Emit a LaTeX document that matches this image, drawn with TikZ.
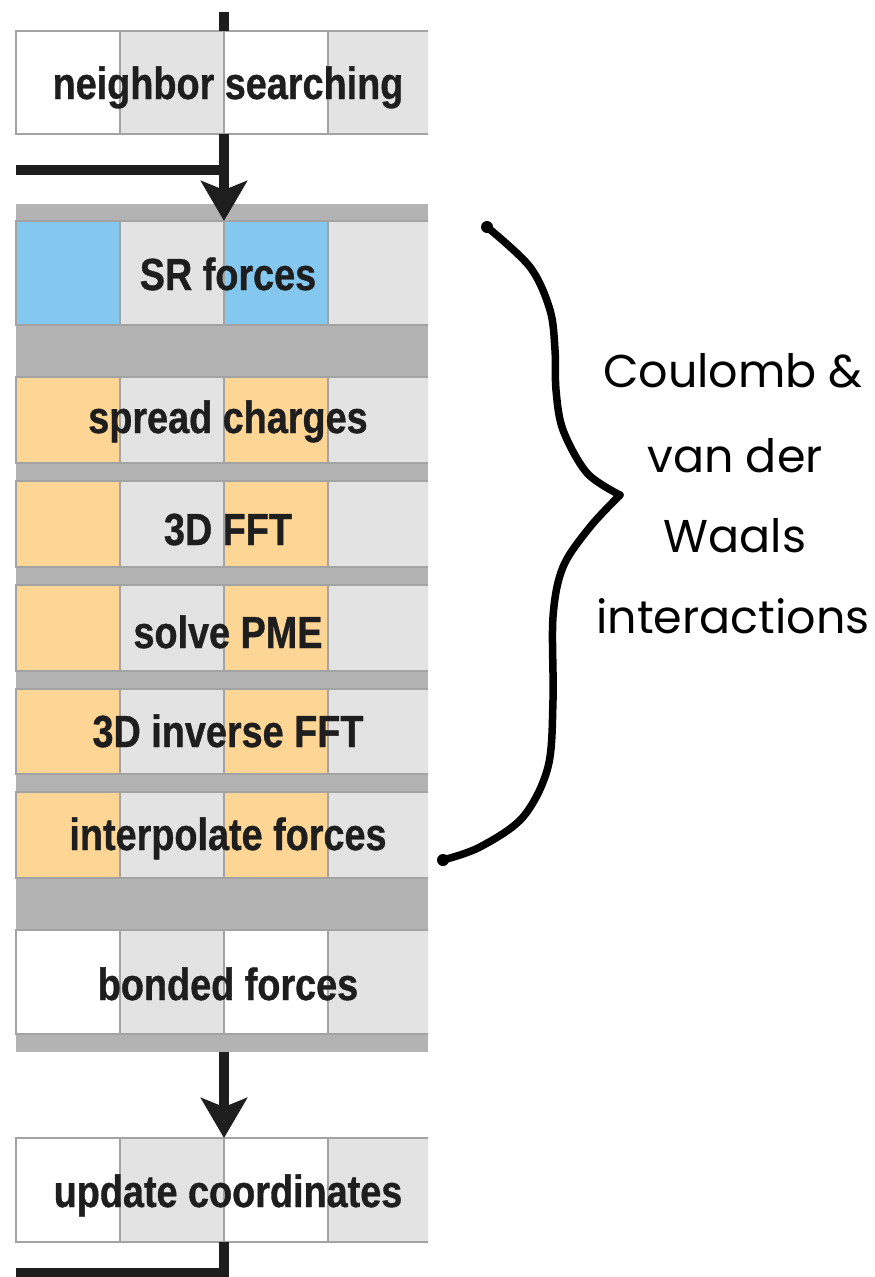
\documentclass[tikz,border=0pt]{standalone}
\usepackage{fontspec}
\usetikzlibrary{arrows.meta,calc}

\newfontfamily\stepfont[FakeStretch=0.84, FakeBold=0.8]{Liberation Sans}
\newfontfamily\handfont{Poppins}

\definecolor{cellblue}{HTML}{84C8F0}
\definecolor{cellorange}{HTML}{FDD594}
\definecolor{cellgray}{HTML}{E3E3E3}
\definecolor{bandgray}{HTML}{B3B3B3}
\definecolor{edgegray}{HTML}{A3A3A3}
\definecolor{ink}{HTML}{1E1E1E}

\tikzset{
  cellline/.style={draw=edgegray, line width=2pt},
  rowbox/.style={rectangle, draw=none, inner sep=0pt, outer sep=0pt, minimum width=416pt},
  steplabel/.style={anchor=base, text=ink, inner sep=0pt,
    font=\stepfont\bfseries\fontsize{45}{54}\selectfont},
  flow/.style={draw=ink, line width=9.5pt},
  flowarrow/.style={flow, -{Stealth[length=40pt, width=46pt, inset=9pt]}},
  brace/.style={draw=black, line width=7.5pt, line cap=round, line join=round},
  handtext/.style={anchor=base, inner sep=0pt, text=black,
    font=\handfont\fontsize{46}{58}\selectfont},
}

% one step of the loop: four cells, a named frame and its label
% #1 name, #2 top, #3 bottom, #4 accent colour, #5 label baseline, #6 label
\newcommand\flowrow[6]{%
  \fill[#4] (16,#2) rectangle (120,#3);
  \fill[cellgray] (120,#2) rectangle (224,#3);
  \fill[#4] (224,#2) rectangle (328,#3);
  \fill[cellgray] (328,#2) rectangle (432,#3);
  \draw[cellline] (16,#2) rectangle (432,#3);
  \draw[cellline] (120,#2) -- (120,#3) (224,#2) -- (224,#3) (328,#2) -- (328,#3);
  \node[rowbox, minimum height={#3-#2}] (#1) at (224,{(#2+#3)/2}) {};
  \node[steplabel] (#1-label) at (228,#5) {#6};
}

\begin{document}
\begin{tikzpicture}[x=1pt, y=-1pt]
  \useasboundingbox (0,0) rectangle (875,1277);
  \fill[white] (0,0) rectangle (875,1277);

  \begin{scope}
    \clip (14,0) rectangle (428,1277);
    % grey block holding the force calculation steps
    \node[rectangle, fill=bandgray, inner sep=0pt, outer sep=0pt,
          minimum width=412pt, minimum height=848pt] (core) at (222,628) {};

    \flowrow{ns}{31}{134}{white}{99}{neighbor searching}
    \flowrow{sr}{221}{325}{cellblue}{290}{SR forces}
    \flowrow{sc}{377}{463}{cellorange}{433}{spread charges}
    \flowrow{fft}{481}{567}{cellorange}{545}{3D FFT}
    \flowrow{pme}{585}{671}{cellorange}{648}{solve PME}
    \flowrow{ifft}{689}{774}{cellorange}{747}{3D inverse FFT}
    \flowrow{ip}{792}{878}{cellorange}{850}{interpolate forces}
    \flowrow{bf}{930}{1034}{white}{1000}{bonded forces}
    \flowrow{uc}{1138}{1242}{white}{1207}{update coordinates}
  \end{scope}

  % loop connectors
  \coordinate (entry) at (224,12);
  \coordinate (loopin) at (16,170);
  \coordinate (loopout) at (16,1273);

  \draw[flow] (entry) -- (ns.north);
  \draw[flow] (loopin) -- (loopin -| ns.south);
  \draw[flowarrow] (ns.south) -- (sr.north);
  \draw[flowarrow] (core.south -| uc.north) -- (uc.north);
  \draw[flow] (uc.south) |- (loopout);

  % hand-drawn brace
  \draw[brace] plot[smooth, tension=0.55] coordinates
    {(487,227) (530,267) (550,310) (555,350) (556,390) (563,430) (587,473) (620,495)};
  \draw[brace] plot[smooth, tension=0.55] coordinates
    {(620,495) (590,527) (563,567) (553,617) (553,700) (548,767) (523,817) (480,847) (443,860)};
  \fill (487,227) circle (6pt);
  \fill (443,860) circle (6pt);

  \node[handtext] (note1) at (733,387) {Coulomb \&};
  \node[handtext] (note2) at (735,472) {van der};
  \node[handtext] (note3) at (735,552) {Waals};
  \node[handtext] (note4) at (733,633) {interactions};
\end{tikzpicture}
\end{document}
